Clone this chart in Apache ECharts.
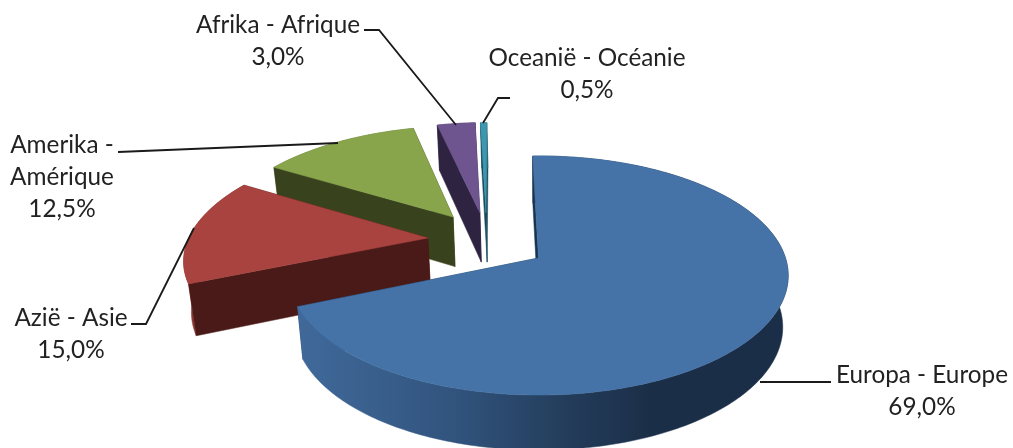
<!DOCTYPE html>
<html><head><meta charset="utf-8">
<style>html,body{margin:0;padding:0;background:#fff}#c{width:1013px;height:448px}</style>
<script src="https://cdn.jsdelivr.net/npm/echarts@6/dist/echarts.min.js"></script>
</head><body><div id="c"></div>
<script>
const categories = ["Europa - Europe", "Azië - Asie", "Amerika -\nAmérique", "Afrika - Afrique", "Oceanië - Océanie"];
const shares = [69.0, 15.0, 12.5, 3.0, 0.5];

// styles
const topColors  = ["#4573a7", "#a8433f", "#88a54c", "#6f558f", "#3d97ae"];
const cutColors  = ["#16344f", "#4a1a19", "#38431d", "#2e2340", "#17495a"];
const rimColors  = [null, "#8f3835", "#5c7232", "#4a3a60", "#2a6a7c"];
const stacking   = [50, 40, 30, 20, 10];
// how far each slice is pulled out, in units of pie radius on the pie's own plane
const explode = [[0.006, 0], [-0.453, 0.175], [-0.358, 0.369], [-0.245, 0.41], [-0.219, 0.41]];
const radiusScale = [1, 0.993, 0.983, 0.983, 0.983];

// projection of the tilted pie
const view = { cx: 537, cy: 258, b: 247, a: 117, k: 0.1464, rot: -1.5, baseX: 0.978, baseCx: 540, h0: 51, h1: -4 };

// label placement
const labelPos = [[922, 391], [71, 334], [62, 177], [278, 41], [587, 74]];
const leaders = [
  [[831, 382], [760, 382]],
  [[131, 324], [146, 324], [194, 228]],
  [[118, 152], [338, 143]],
  [[364, 30], [379, 30], [456, 125]],
  [[510, 98], [498, 98], [483, 123]]
];
const fontFamily = 'Lato, "Noto Sans", sans-serif';
const fontSize = 24.3;

function project(u, v) {
  const s = 1 / (1 + view.k * v);
  return [view.cx + view.b * u * s, view.cy - view.a * v * s];
}
function toBase(p, v) {
  return [view.baseCx + (p[0] - view.baseCx) * view.baseX, p[1] + view.h0 + view.h1 * v];
}
function rimPoint(e, r, deg) {
  const t = (deg + view.rot) * Math.PI / 180;
  return [e[0] + r * Math.sin(t), e[1] + r * Math.cos(t)];
}

const total = shares.reduce((a, b) => a + b, 0);

function renderItem(params, api) {
  const i = params.dataIndex;
  let start = 0;
  for (let j = 0; j < i; j++) start += shares[j];
  const a0 = start / total * 360;
  const a1 = (start + api.value(0)) / total * 360;
  const e = explode[i];
  const rim = [], rimB = [];
  const n = Math.max(3, Math.ceil(a1 - a0));
  for (let t = 0; t <= n; t++) {
    const d = rimPoint(e, radiusScale[i], a0 + (a1 - a0) * t / n);
    const p = project(d[0], d[1]);
    rim.push(p);
    rimB.push(toBase(p, d[1]));
  }
  const apex = project(e[0], e[1]);
  const apexB = toBase(apex, e[1]);
  const z = stacking[i];
  const poly = (pts, fill, dz, stroke) => ({
    type: 'polygon', z2: z + dz, shape: { points: pts },
    style: { fill: fill, stroke: stroke || fill, lineWidth: 0.5 }
  });
  const rimFill = i === 0
    ? new echarts.graphic.LinearGradient(300, 0, 790, 0, [
        { offset: 0, color: '#40699a' },
        { offset: 0.3, color: '#32557f' },
        { offset: 0.55, color: '#233c5a' },
        { offset: 0.72, color: '#1b2e47' },
        { offset: 1, color: '#1b2e47' }
      ], true)
    : rimColors[i];
  const kids = [
    poly([apex, rim[n], rimB[n], apexB], cutColors[i], 0),
    poly(rim.concat(rimB.slice().reverse()), rimFill, 1),
    poly([apex, rim[0], rimB[0], apexB], cutColors[i], 2),
    poly([apex].concat(rim), topColors[i], 3),
    {
      type: 'polyline', z2: 100, shape: { points: leaders[i] },
      style: { fill: null, stroke: '#1a1a1a', lineWidth: 1.8 }
    },
    {
      type: 'text', z2: 101, x: labelPos[i][0], y: labelPos[i][1],
      style: {
        text: categories[i] + '\n' + api.value(0).toFixed(1).replace('.', ',') + '%',
        align: 'center', verticalAlign: 'middle', lineHeight: 32,
        fill: '#222222', fontFamily: fontFamily, fontSize: fontSize
      }
    }
  ];
  return { type: 'group', children: kids };
}

const chart = echarts.init(document.getElementById('c'), null, { renderer: 'canvas' });
chart.setOption({
  animation: false,
  backgroundColor: '#ffffff',
  series: [{
    type: 'custom',
    coordinateSystem: 'none',
    renderItem: renderItem,
    clip: false,
    data: shares.map((v, i) => ({ name: categories[i], value: [v] }))
  }]
});
</script></body></html>
